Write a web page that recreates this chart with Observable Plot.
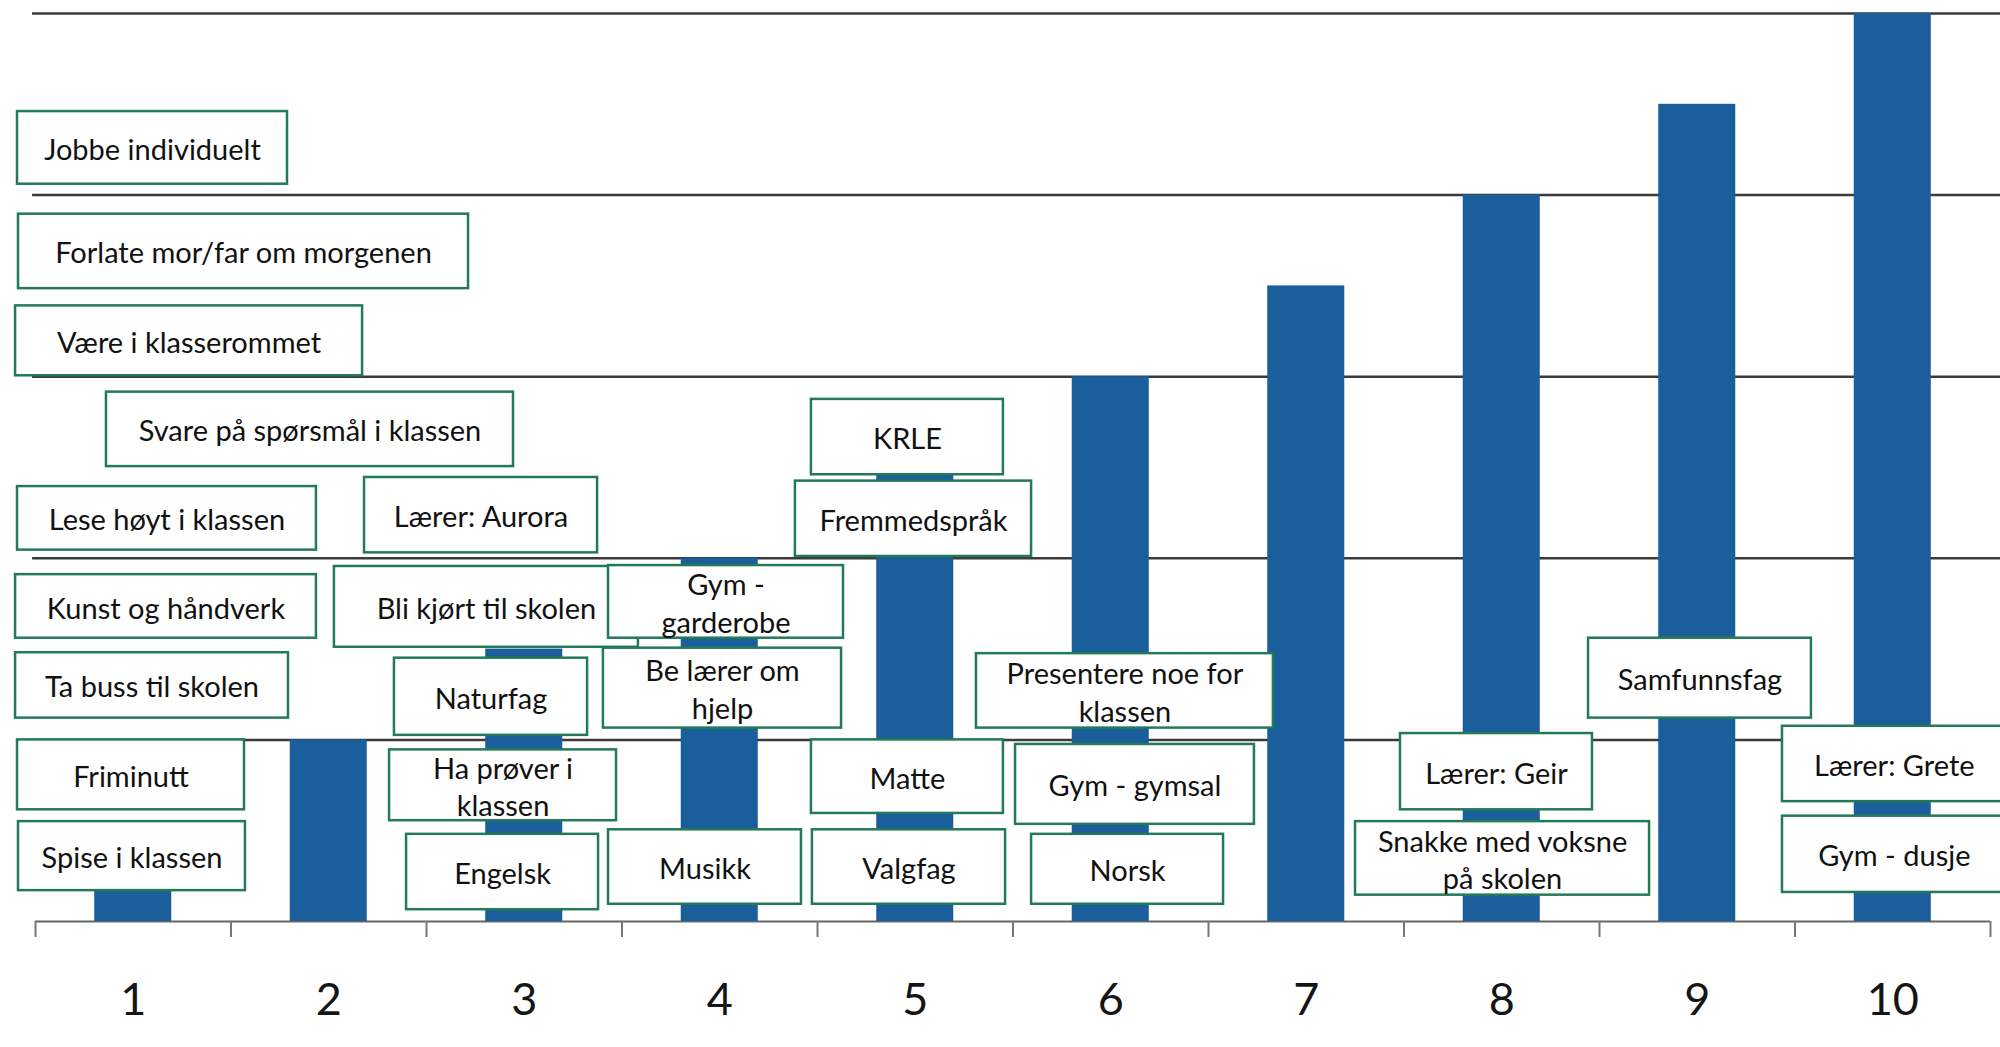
<!DOCTYPE html>
<html>
<head>
<meta charset="utf-8">
<script src="https://cdn.jsdelivr.net/npm/d3@7"></script>
<script src="https://cdn.jsdelivr.net/npm/@observablehq/plot@0.6"></script>
<style>
  html, body { margin: 0; padding: 0; background: #fff; }
  #chart svg { display: block; }
</style>
</head>
<body>
<div id="chart"></div>
<script>
// Steps on the scale (categories) and bar heights
const steps = [1, 2, 3, 4, 5, 6, 7, 8, 9, 10];
const values = [1, 2, 3, 4, 5, 6, 7, 8, 9, 10];
const tickLabels = ["1", "2", "3", "4", "5", "6", "7", "8", "9", "10"];
const gridValues = [2, 4, 6, 8, 10];
const boundaries = [0.5, 1.5, 2.5, 3.5, 4.5, 5.5, 6.5, 7.5, 8.5, 9.5, 10.5];

// Situation labels placed on the chart
const boxLabels = [
  "Jobbe individuelt",
  "Forlate mor/far om morgenen",
  "Være i klasserommet",
  "Svare på spørsmål i klassen",
  "Lese høyt i klassen",
  "Lærer: Aurora",
  "Kunst og håndverk",
  "Bli kjørt til skolen",
  "Gym -\ngarderobe",
  "Ta buss til skolen",
  "Naturfag",
  "Be lærer om\nhjelp",
  "Presentere noe for\nklassen",
  "Samfunnsfag",
  "Friminutt",
  "Ha prøver i\nklassen",
  "Matte",
  "Gym - gymsal",
  "Lærer: Geir",
  "Lærer: Grete",
  "Spise i klassen",
  "Engelsk",
  "Musikk",
  "Valgfag",
  "Norsk",
  "Snakke med voksne\npå skolen",
  "Gym - dusje",
  "KRLE",
  "Fremmedspråk"
];
// Label box extents in data units (step axis / level axis)
const boxX1 = [0.408, 0.413, 0.398, 0.863, 0.408, 2.183, 0.398, 2.029, 3.431, 0.398, 2.336, 3.405, 5.313, 8.444, 0.408, 2.311, 4.469, 5.513, 7.482, 9.436, 0.413, 2.398, 3.431, 4.474, 5.595, 7.252, 9.436, 4.469, 4.387];
const boxX2 = [1.789, 2.715, 2.173, 2.945, 1.937, 3.375, 1.937, 3.584, 4.633, 1.794, 3.324, 4.623, 6.832, 9.584, 1.569, 3.472, 5.451, 6.735, 8.464, 10.58, 1.574, 3.380, 4.418, 5.462, 6.577, 8.756, 10.58, 5.451, 5.595];
const boxY1 = [8.12, 6.97, 6.01, 5.01, 4.09, 4.06, 3.12, 3.02, 3.12, 2.24, 2.05, 2.13, 2.13, 2.24, 1.23, 1.11, 1.19, 1.07, 1.23, 1.32, 0.34, 0.13, 0.19, 0.19, 0.19, 0.29, 0.32, 4.92, 4.02];
const boxY2 = [8.92, 7.79, 6.78, 5.83, 4.79, 4.89, 3.82, 3.91, 3.92, 2.96, 2.90, 3.01, 2.95, 3.12, 2.00, 1.89, 2.00, 1.95, 2.07, 2.15, 1.10, 0.96, 1.01, 1.01, 0.96, 1.10, 1.16, 5.75, 4.85];

const bars = steps.map((s, i) => ({step: s, value: values[i]}));
const boxes = boxLabels.map((t, i) => ({label: t, x1: boxX1[i], x2: boxX2[i], y1: boxY1[i], y2: boxY2[i]}));

const halfBar = 0.197;
const font = "Lato, 'Open Sans', sans-serif";

const chart = Plot.plot({
  width: 2000,
  height: 1047,
  marginLeft: 35,
  marginRight: 10,
  marginTop: 13,
  marginBottom: 126,
  style: {background: "#fff", fontFamily: font, overflow: "visible"},
  x: {type: "linear", domain: [0.5, 10.5], axis: null},
  y: {domain: [0, 10], axis: null},
  marks: [
    Plot.ruleY(gridValues, {x1: 0.485, x2: 10.7, stroke: "#3a3a3a", strokeWidth: 2.5}),
    Plot.ruleY([0], {x1: 0.5, x2: 10.5, stroke: "#666", strokeWidth: 2}),
    Plot.rectY(bars, {x1: d => d.step - halfBar, x2: d => d.step + halfBar, y: "value", fill: "#1b5e9c"}),
    Plot.axisX(boundaries, {tickSize: 16, tickFormat: () => "", stroke: "#777", strokeWidth: 2}),
    Plot.axisX(steps, {tickSize: 0, tickPadding: 62, tickFormat: (d, i) => tickLabels[i], fontSize: 45, color: "#151515", fontFamily: font}),
    Plot.rect(boxes, {x1: "x1", x2: "x2", y1: "y1", y2: "y2", fill: "#fff", stroke: "#237a57", strokeWidth: 2.5}),
    Plot.text(boxes, {x: d => (d.x1 + d.x2) / 2, y: d => (d.y1 + d.y2) / 2, text: "label", fontSize: 29, lineHeight: 1.3, fill: "#111", fontFamily: font, textAnchor: "middle"})
  ]
});
document.getElementById("chart").appendChild(chart);
</script>
</body>
</html>
